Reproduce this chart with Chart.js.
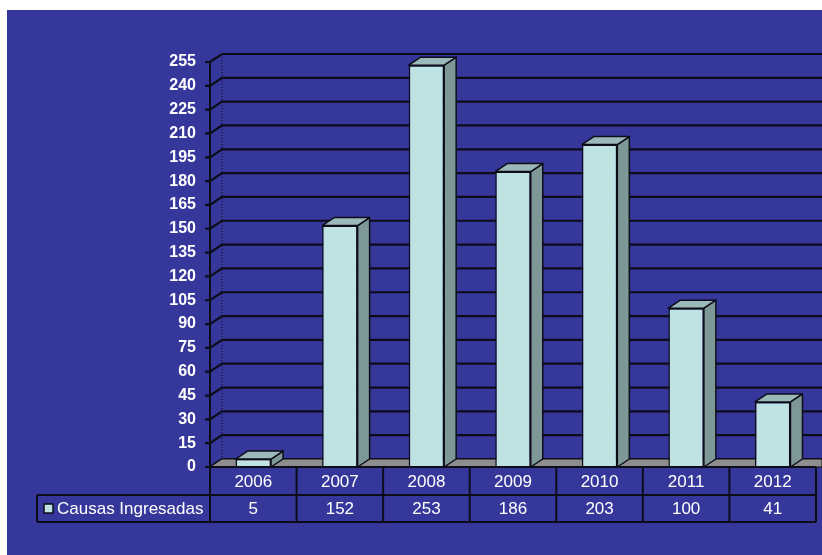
<!DOCTYPE html>
<html>
<head>
<meta charset="utf-8">
<script src="https://cdn.jsdelivr.net/npm/chart.js@4.4.0/dist/chart.umd.min.js"></script>
<style>
  html, body { margin: 0; padding: 0; background: #ffffff; }
  #wrap { width: 822px; height: 555px; }
</style>
</head>
<body>
<div id="wrap"><canvas id="myChart" width="822" height="555"></canvas></div>
<script>
"use strict";

// chart data
const years = ["2006", "2007", "2008", "2009", "2010", "2011", "2012"];
const causas = [5, 152, 253, 186, 203, 100, 41];
const seriesName = "Causas Ingresadas";
const yMax = 255;
const yStep = 15;

// look
const panelBlue = "#35379a";
const faceColor = "#bfe2e3";
const sideColor = "#7d9897";
const topColor = "#9bb9b9";
const floorColor = "#8e8e8e";
const lineColor = "#0d0d1a";
const depthX = 12;
const depthY = 8;

const panelPlugin = {
  id: "panel",
  beforeDraw(chart) {
    const ctx = chart.ctx;
    ctx.save();
    ctx.fillStyle = "#ffffff";
    ctx.fillRect(0, 0, chart.width, chart.height);
    ctx.fillStyle = panelBlue;
    ctx.fillRect(7, 10, chart.width - 7, chart.height - 10);
    ctx.restore();
  },
};

// back wall, gridlines, floor and ticks
const wallPlugin = {
  id: "wall",
  beforeDatasetsDraw(chart) {
    const ctx = chart.ctx;
    const area = chart.chartArea;
    const yScale = chart.scales.y;
    const right = chart.width;
    ctx.save();
    ctx.lineWidth = 2.2;
    ctx.strokeStyle = lineColor;

    // dotted back corner
    ctx.save();
    ctx.setLineDash([1, 2]);
    ctx.lineWidth = 1;
    ctx.beginPath();
    ctx.moveTo(area.left + depthX, area.top - depthY);
    ctx.lineTo(area.left + depthX, area.bottom - depthY);
    ctx.stroke();
    ctx.restore();

    for (let v = 0; v <= yMax; v += yStep) {
      let y = yScale.getPixelForValue(v);
      ctx.beginPath();
      ctx.moveTo(area.left - 5, y);
      ctx.lineTo(area.left, y);
      ctx.lineTo(area.left + depthX, y - depthY);
      ctx.lineTo(right, y - depthY);
      ctx.stroke();
    }

    // floor
    let y0 = yScale.getPixelForValue(0);
    ctx.fillStyle = floorColor;
    ctx.beginPath();
    ctx.moveTo(area.left, y0);
    ctx.lineTo(right, y0);
    ctx.lineTo(right, y0 - depthY);
    ctx.lineTo(area.left + depthX, y0 - depthY);
    ctx.closePath();
    ctx.fill();
    ctx.lineWidth = 1;
    ctx.stroke();

    // front axis
    ctx.lineWidth = 2;
    ctx.beginPath();
    ctx.moveTo(area.left, yScale.getPixelForValue(yMax));
    ctx.lineTo(area.left, y0);
    ctx.stroke();
    ctx.restore();
  },
  afterDatasetsDraw(chart) {
    const ctx = chart.ctx;
    const meta = chart.getDatasetMeta(0);
    ctx.save();
    ctx.lineWidth = 1.5;
    ctx.strokeStyle = lineColor;
    ctx.lineJoin = "round";
    meta.data.forEach(function (bar) {
      let p = bar.getProps(["x", "y", "base", "width"], true);
      let l = p.x - p.width / 2;
      let r = p.x + p.width / 2;
      // side
      ctx.fillStyle = sideColor;
      ctx.beginPath();
      ctx.moveTo(r, p.base);
      ctx.lineTo(r, p.y);
      ctx.lineTo(r + depthX, p.y - depthY);
      ctx.lineTo(r + depthX, p.base - depthY);
      ctx.closePath();
      ctx.fill();
      ctx.stroke();
      // top
      ctx.fillStyle = topColor;
      ctx.beginPath();
      ctx.moveTo(l, p.y);
      ctx.lineTo(r, p.y);
      ctx.lineTo(r + depthX, p.y - depthY);
      ctx.lineTo(l + depthX, p.y - depthY);
      ctx.closePath();
      ctx.fill();
      ctx.stroke();
    });
    ctx.restore();
  },
};

// data table under the plot
const tablePlugin = {
  id: "dataTable",
  afterDraw(chart) {
    const ctx = chart.ctx;
    const area = chart.chartArea;
    const xScale = chart.scales.x;
    const top = chart.scales.y.getPixelForValue(0);
    const mid = top + 28;
    const bottom = mid + 27;
    const legendLeft = 37;
    const step = (area.right - area.left) / years.length;

    ctx.save();
    ctx.strokeStyle = lineColor;
    ctx.lineWidth = 2;
    ctx.beginPath();
    ctx.moveTo(area.left, top);
    ctx.lineTo(area.right, top);
    ctx.moveTo(legendLeft, mid);
    ctx.lineTo(area.right, mid);
    ctx.moveTo(legendLeft, bottom);
    ctx.lineTo(area.right, bottom);
    ctx.moveTo(legendLeft, mid);
    ctx.lineTo(legendLeft, bottom);
    for (let i = 0; i <= years.length; i++) {
      let x = area.left + i * step;
      ctx.moveTo(x, top);
      ctx.lineTo(x, bottom);
    }
    ctx.stroke();

    ctx.fillStyle = "#ffffff";
    ctx.font = "17px 'Liberation Sans', Arial, sans-serif";
    ctx.textAlign = "center";
    ctx.textBaseline = "middle";
    for (let i = 0; i < years.length; i++) {
      let x = xScale.getPixelForValue(i);
      ctx.fillText(years[i], x, (top + mid) / 2 + 1);
      ctx.fillText(String(causas[i]), x, (mid + bottom) / 2 + 1);
    }

    // legend key
    ctx.fillStyle = faceColor;
    ctx.lineWidth = 1.5;
    ctx.fillRect(44, mid + 9, 9, 9);
    ctx.strokeRect(44, mid + 9, 9, 9);
    ctx.fillStyle = "#ffffff";
    ctx.textAlign = "left";
    ctx.fillText(seriesName, 57, (mid + bottom) / 2 + 1);
    ctx.restore();
  },
};

const data = {
  labels: years,
  datasets: [
    {
      label: seriesName,
      data: causas,
      backgroundColor: faceColor,
      borderColor: lineColor,
      borderWidth: 1.5,
      barPercentage: 0.41,
      categoryPercentage: 1,
    },
  ],
};

const config = {
  type: "bar",
  data: data,
  options: {
    responsive: false,
    animation: false,
    layout: {
      padding: { top: 62, right: 6, bottom: 88, left: 0 },
    },
    plugins: {
      legend: { display: false },
      tooltip: { enabled: false },
    },
    scales: {
      x: {
        display: false,
        offset: true,
      },
      y: {
        min: 0,
        max: yMax,
        border: { display: false },
        grid: { display: false, drawTicks: false },
        ticks: {
          stepSize: yStep,
          color: "#ffffff",
          padding: 14,
          font: { family: "'Liberation Sans', Arial, sans-serif", size: 16, weight: "bold" },
        },
        afterFit(scale) {
          scale.width = 210;
        },
      },
    },
  },
  plugins: [panelPlugin, wallPlugin, tablePlugin],
};

const canvasChart = document.getElementById("myChart");
new Chart(canvasChart, config);
</script>
</body>
</html>
